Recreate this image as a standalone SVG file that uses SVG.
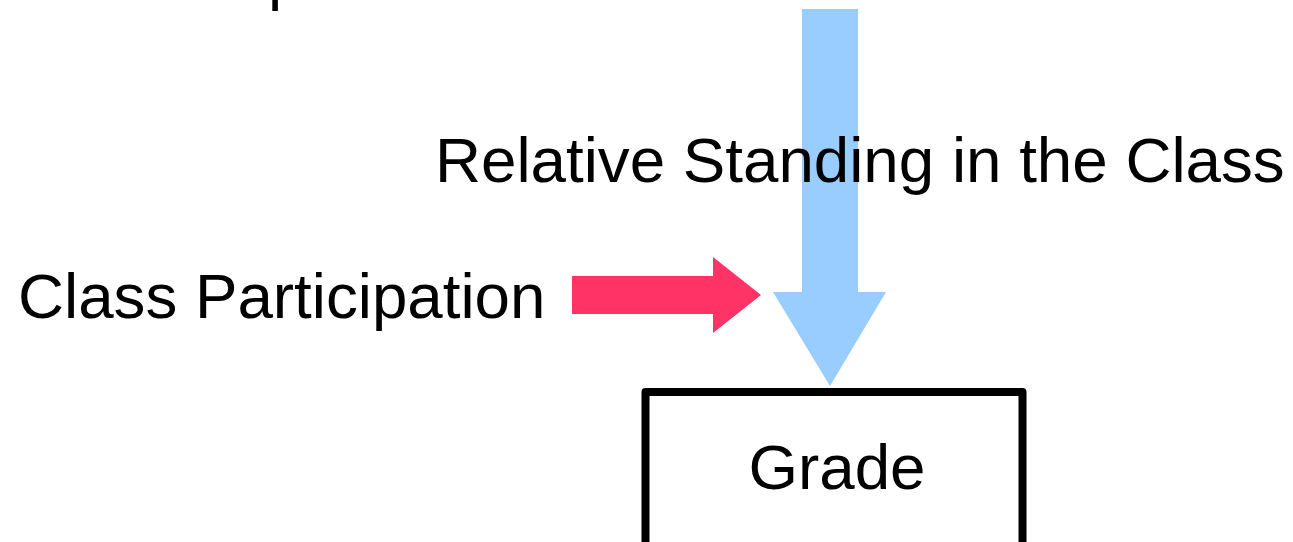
<svg xmlns="http://www.w3.org/2000/svg" width="1293" height="542" viewBox="0 0 1293 542">
  <style>
    .label { font-family: "Liberation Sans", Arial, sans-serif; font-size: 63.7px; fill: #000000; }
    .box { fill: #ffffff; stroke: #000000; stroke-width: 8; stroke-linejoin: round; }
  </style>
  <rect width="1293" height="542" fill="#ffffff"/>

  <!-- clipped caption above the frame -->
  <text class="label" x="268" y="-2">p</text>

  <g id="connectors">
    <!-- wide downward arrow into the grade box -->
    <polygon id="arrow-standing" fill="#99ccff" points="802,9 858,9 858,292 886,292 830,386 773,292 802,292"/>
    <!-- block arrow from class participation -->
    <polygon id="arrow-participation" fill="#ff3366" points="572,276 713,276 713,257 761,295 713,333 713,314 572,314"/>
  </g>

  <g id="node-standing">
    <text class="label" x="435" y="182">Relative Standing in the Class</text>
  </g>

  <g id="node-participation">
    <text class="label" x="18" y="318">Class Participation</text>
  </g>

  <g id="node-grade">
    <rect class="box" x="645.5" y="392" width="377" height="170"/>
    <text class="label" x="837" y="489" text-anchor="middle">Grade</text>
  </g>
</svg>
